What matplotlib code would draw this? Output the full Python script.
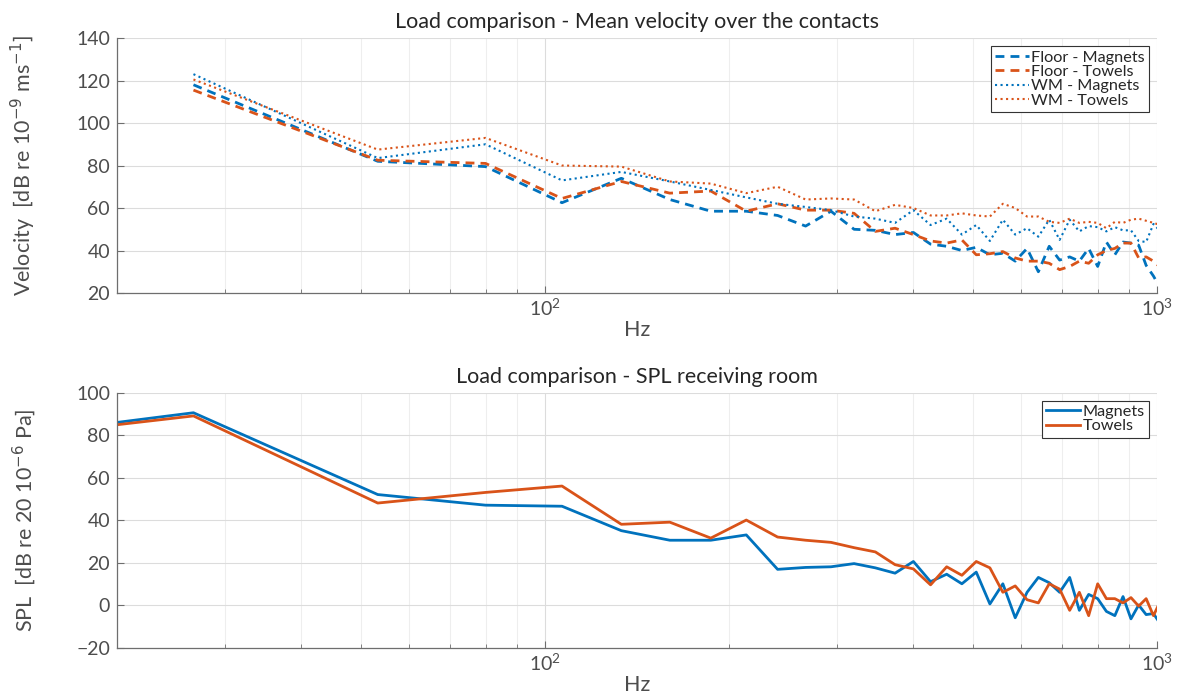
import numpy as np
import matplotlib
matplotlib.use('Agg')
import matplotlib.pyplot as plt
from matplotlib.ticker import LogLocator, NullFormatter

plt.rcParams['font.family'] = ['Lato', 'DejaVu Sans']

# frequency resolution of the spectra
df = 80.0 / 3.0
freq_top = df * np.arange(1, 39)
freq_bot = df * np.array([0.5] + list(range(1, 39)))

floor_magnets = [118, 82, 79.5, 62.5, 74, 64, 58.5, 58.5, 56.5, 51.5, 58.5, 50, 49.5, 47.5,
                 48.5, 43, 42, 40, 41.5, 38, 38.7, 35, 41, 30, 42, 35.5, 37, 35, 41, 32.5,
                 44, 38, 44, 43.5, 42.5, 33, 28, 22]
floor_towels = [115.5, 82.5, 81, 64.5, 72.5, 67, 68, 58.5, 62, 59, 59, 57.5, 49, 50.5,
                47.5, 44.5, 43.5, 45, 38, 38.5, 39.5, 36.5, 35, 35, 34, 31, 32.5, 35, 34, 38,
                40, 41, 43.5, 43.5, 36.5, 37, 35, 32]
wm_magnets = [123, 83.5, 90, 73, 77, 72.5, 68.5, 65, 62, 60.5, 59, 56, 55, 53,
              59, 52, 55, 47.5, 52, 44.5, 54.5, 47.5, 50.5, 46.5, 54.5, 45, 54.5, 49, 51.5, 51,
              49, 51, 49.5, 49.5, 44.5, 44, 52.5, 49]
wm_towels = [120.5, 87.5, 93, 80, 79.5, 72.5, 71.5, 67, 70, 64, 64.5, 64, 58.5, 61.5,
             60, 56.5, 56.5, 57.5, 56.5, 56, 62, 60, 56, 56, 53.5, 53, 55, 53, 53.5, 53,
             50.5, 53.5, 53, 54.5, 55, 54, 53, 52]

spl_magnets = [79.5, 90.5, 52, 47, 46.5, 35, 30.5, 30.5, 33, 16.8, 17.7, 18, 19.5, 17.5,
               15, 20.5, 11, 14.5, 10, 15.5, 0.5, 10, -6, 6, 13, 10.5, 6, 13, -2.5, 5,
               3, -3, -5, 4, -6.5, 0, -4.5, -4, -9]
spl_towels = [79, 89, 48, 53, 56, 38, 39, 31.5, 40, 32, 30.5, 29.5, 27, 25,
              19, 17, 9.5, 18, 14, 20.5, 17.5, 6, 9, 2.5, 1, 10, 7.5, -2.5, 6, -5,
              10, 3, 3, 1, 3.5, -0.5, 3, -5, 2]

blue = '#0072BD'
orange = '#D95319'
txt = '#262626'


def style_axes(ax, ylim, yticks):
    ax.set_xscale('log')
    ax.set_xlim(20, 1000)
    ax.set_ylim(*ylim)
    ax.set_yticks(yticks)
    ax.xaxis.set_major_locator(LogLocator(base=10))
    ax.xaxis.set_minor_locator(LogLocator(base=10, subs=np.arange(2, 10)))
    ax.xaxis.set_minor_formatter(NullFormatter())
    ax.grid(True, which='major', color='#dcdcdc', lw=0.8)
    ax.grid(True, which='minor', axis='x', color='#eeeeee', lw=0.8)
    ax.set_axisbelow(True)
    for s in ['top', 'right']:
        ax.spines[s].set_visible(False)
    for s in ['left', 'bottom']:
        ax.spines[s].set_color('#6e6e6e')
        ax.spines[s].set_linewidth(0.9)
    ax.tick_params(which='both', direction='in', colors='#6e6e6e', labelcolor='#4d4d4d',
                   labelsize=14)
    ax.tick_params(which='major', length=5)
    ax.tick_params(which='minor', length=3)
    ax.tick_params(axis='y', pad=5)
    ax.set_xlabel('Hz', fontsize=15.5, color='#4d4d4d', labelpad=1)
    ax.yaxis.set_label_coords(-0.076, 0.5)


def add_legend(ax):
    leg = ax.legend(loc='upper right', fontsize=11.7, handlelength=2.1, handletextpad=0.15,
                    labelspacing=0.0, borderpad=0.25, fancybox=False, framealpha=1,
                    borderaxespad=0.5)
    leg.get_frame().set_edgecolor('#333333')
    leg.get_frame().set_linewidth(0.8)
    for t in leg.get_texts():
        t.set_color(txt)


fig = plt.figure(figsize=(11.84, 6.98), dpi=100)
ax1 = fig.add_axes([0.0988, 0.5802, 0.8784, 0.3653])
ax2 = fig.add_axes([0.0988, 0.0723, 0.8784, 0.3653])

ax1.plot(freq_top, floor_magnets, '--', color=blue, lw=2, dashes=(3.2, 2.2), label='Floor - Magnets')
ax1.plot(freq_top, floor_towels, '--', color=orange, lw=2, dashes=(3.2, 2.2), label='Floor - Towels')
ax1.plot(freq_top, wm_magnets, ':', color=blue, lw=1.5, label='WM - Magnets')
ax1.plot(freq_top, wm_towels, ':', color=orange, lw=1.5, label='WM - Towels')
style_axes(ax1, (20, 140), np.arange(20, 141, 20))
ax1.set_title('Load comparison - Mean velocity over the contacts', fontsize=15.5, color=txt, pad=7)
ax1.set_ylabel('Velocity  [dB re 10$^{-9}$ ms$^{-1}$]', fontsize=15.5, color='#4d4d4d')
add_legend(ax1)

ax2.plot(freq_bot, spl_magnets, '-', color=blue, lw=2, label='Magnets')
ax2.plot(freq_bot, spl_towels, '-', color=orange, lw=2, label='Towels')
style_axes(ax2, (-20, 100), np.arange(-20, 101, 20))
ax2.set_title('Load comparison - SPL receiving room', fontsize=15.5, color=txt, pad=7)
ax2.set_ylabel('SPL  [dB re 20 10$^{-6}$ Pa]', fontsize=15.5, color='#4d4d4d')
add_legend(ax2)

fig.savefig('out.png', dpi=100, facecolor='white')
